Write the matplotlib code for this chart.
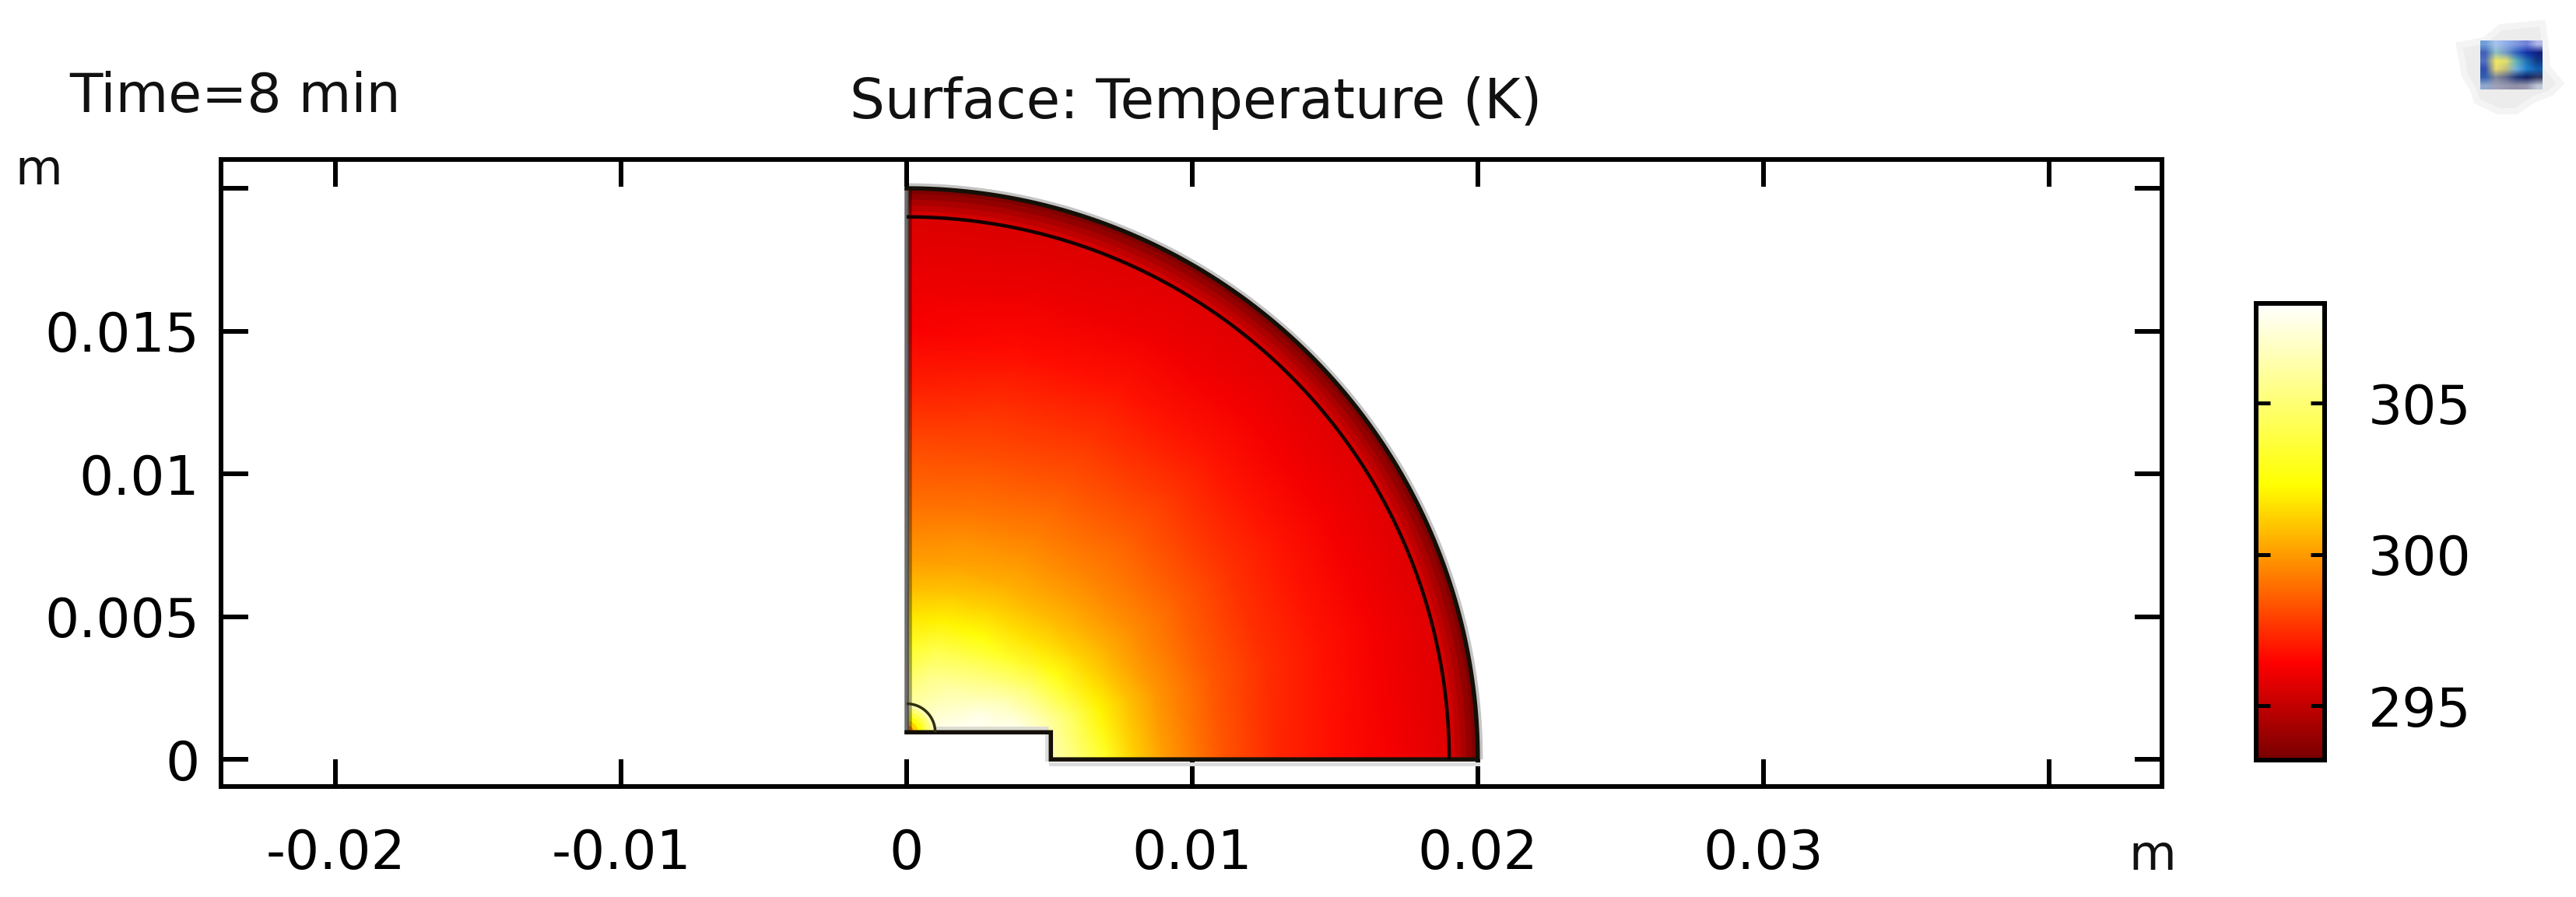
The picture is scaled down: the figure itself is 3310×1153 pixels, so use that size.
import numpy as np
import matplotlib
matplotlib.use("Agg")
import matplotlib.pyplot as plt
from matplotlib.colors import LinearSegmentedColormap, Normalize
from matplotlib.cm import ScalarMappable
from matplotlib.patches import PathPatch, Wedge, Polygon
from matplotlib.path import Path

plt.rcParams["font.family"] = "DejaVu Sans"

# ==============================
# Data
# ==============================
x_ticks = [-0.02, -0.01, 0, 0.01, 0.02, 0.03, 0.04]
x_labels = ["-0.02", "-0.01", "0", "0.01", "0.02", "0.03", ""]
y_ticks = [0, 0.005, 0.01, 0.015, 0.02]
y_labels = ["0", "0.005", "0.01", "0.015", ""]
cbar_ticks = [295, 300, 305]

# geometry in metres
outer_radius = 0.02
inner_radius = 0.019
notch_x = 0.00505
notch_y = 0.00095
small_radius = 0.001

# temperature (K) on a polar table: one list per angle, one value per radius
radii = [0, 0.001, 0.002, 0.003, 0.004, 0.005, 0.006, 0.007, 0.008, 0.009,
         0.011, 0.013, 0.015, 0.017, 0.019, 0.0195]
angles_deg = [0, 15, 30, 45, 60, 75, 90]
temp_deg0 = [308, 308, 308, 308, 307.5, 306.6, 305, 303.2, 301.2, 300.1, 298.4, 297.3, 296.7, 296.2, 295.7, 295.7]
temp_deg15 = [308, 308, 308, 308, 307.9, 306.4, 304.5, 302.1, 300.9, 299.9, 298.5, 297.5, 296.8, 296.2, 295.7, 295.7]
temp_deg30 = [308, 308, 308, 307.8, 306.6, 304.9, 302.7, 301.3, 300.4, 299.7, 298.6, 297.6, 296.9, 296.2, 295.7, 295.7]
temp_deg45 = [308, 308, 307.5, 306.6, 305.2, 303.3, 301.6, 300.7, 300.1, 299.5, 298.6, 297.7, 296.9, 296.2, 295.7, 295.7]
temp_deg60 = [308, 307.5, 306.9, 306, 304.4, 302.5, 301.3, 300.5, 299.9, 299.35, 298.4, 297.6, 296.8, 296.1, 295.7, 295.7]
temp_deg75 = [308, 307, 306.3, 305.5, 304, 302, 301, 300.2, 299.7, 299.1, 298.2, 297.4, 296.6, 296, 295.6, 295.6]
temp_deg90 = [308, 306.5, 306, 304.5, 303.1, 301.7, 300.8, 300, 299.5, 298.95, 298.1, 297.1, 296.3, 295.95, 295.6, 295.6]

# outer shell bands, outermost first
shell_radii = [0.0200, 0.0198, 0.0196, 0.0194, 0.0192]
shell_temp = [293.4, 293.9, 294.4, 294.9, 295.4]

# small quarter circle at the inner corner, outermost first
small_radii = [0.001, 0.00085, 0.0007, 0.00055, 0.0004, 0.00025, 0.00012]
small_temp = [306.5, 305, 303.8, 302.5, 301.3, 299.5, 296.8]

# colour scale
temp_min = 293.2
temp_max = 308.3
cmap_stops = [(0.0, "#780000"), (0.212, "#ff0000"), (0.603, "#ffff00"), (1.0, "#ffffff")]

# small app icon, top right
icon_colors = [
    ["#6f9fd8", "#a8c4ec", "#90aee8", "#8098e0", "#7080d8", "#b0b8e8"],
    ["#4060b8", "#90c0c0", "#7098c8", "#3060c0", "#1030a8", "#102080"],
    ["#5070c0", "#f0e860", "#e0e070", "#60b0b8", "#2070b0", "#103888"],
    ["#3050b0", "#e8d870", "#c0c080", "#70b0e0", "#2080d0", "#1060b0"],
    ["#3060b0", "#808898", "#606890", "#203878", "#102060", "#303860"],
    ["#90a8d0", "#a0a0b8", "#9898b0", "#9090a8", "#9898b0", "#c0c8d8"],
]

# ==============================
# Figure and axes, pixel layout
# ==============================
W, H = 3310, 1153
PX = 72 / 100  # points per pixel at dpi 100
fig = plt.figure(figsize=(W / 100, H / 100), dpi=100, facecolor="white")


def add_axes_px(x0, y0, x1, y1):
    return fig.add_axes([x0 / W, 1 - y1 / H, (x1 - x0) / W, (y1 - y0) / H])


def body_path(radius):
    # quarter disc with the step cut out of its inner corner
    verts = [(0, notch_y), (notch_x, notch_y), (notch_x, 0)]
    verts += list(zip(radius * np.cos(arc), radius * np.sin(arc)))
    verts += [(0, notch_y)]
    return Path(verts, closed=True)


ax = add_axes_px(284, 205, 2778, 1011)
ax.set_xlim(-0.02401, 0.04396)
ax.set_ylim(-0.00095, 0.02101)

cmap = LinearSegmentedColormap.from_list("thermal", cmap_stops)
norm = Normalize(temp_min, temp_max)

# ==============================
# Temperature surface
# ==============================
arc = np.radians(np.linspace(0, 90, 200))
clip = PathPatch(body_path(outer_radius), transform=ax.transData, fc="none", ec="none")
inner_clip = PathPatch(body_path(inner_radius), transform=ax.transData, fc="none", ec="none")
ax.add_patch(clip)
ax.add_patch(inner_clip)

for r, t in zip(shell_radii, shell_temp):
    band = Wedge((0, 0), r, 0, 90, fc=cmap(norm(t)), ec="none", zorder=1)
    ax.add_patch(band)
    band.set_clip_path(clip)

temps = np.column_stack([temp_deg0, temp_deg15, temp_deg30, temp_deg45,
                         temp_deg60, temp_deg75, temp_deg90])
rr = np.array(radii)[:, None]
tt = np.radians(angles_deg)[None, :]
mesh = ax.pcolormesh(rr * np.cos(tt), rr * np.sin(tt), temps,
                     shading="gouraud", cmap=cmap, norm=norm, zorder=2)
mesh.set_clip_path(inner_clip)

for r, t in zip(small_radii, small_temp):
    ax.add_patch(Wedge((0, notch_y), r, 0, 90, fc=cmap(norm(t)), ec="none", zorder=2.5))

# ==============================
# Edges and their soft shadows
# ==============================
px_x = 1 / 36690  # metres per pixel
px_y = 1 / 36700
GREY = "#dcdcdc"

ax.plot((outer_radius + 4 * px_x) * np.cos(arc), (outer_radius + 4 * px_y) * np.sin(arc),
        color="#c4c4c4", lw=5 * PX, zorder=0.5, solid_capstyle="butt")
ax.plot([notch_x, outer_radius], [-5.5 * px_y] * 2, color=GREY, lw=5 * PX, zorder=3)
ax.plot([notch_x - 5.5 * px_x] * 2, [0, notch_y], color=GREY, lw=5 * PX, zorder=3)
ax.plot([small_radius, notch_x - 3 * px_x], [notch_y + 5.5 * px_y] * 2, color="#dcdcd0",
        lw=5 * PX, zorder=3, solid_capstyle="butt")

# left edge: grey line and a darker strip beside it
ax.plot([0, 0], [notch_y - 3 * px_y, outer_radius], color="#6e6e6e", lw=5.5 * PX,
        zorder=3, solid_capstyle="butt")
ax.plot([4.5 * px_x] * 2, [notch_y, outer_radius - 3 * px_y], color="black", alpha=0.35,
        lw=5.5 * PX, zorder=3, solid_capstyle="butt")

outline_x = [0, notch_x, notch_x] + list(outer_radius * np.cos(arc))
outline_y = [notch_y, notch_y, 0] + list(outer_radius * np.sin(arc))
ax.plot(outline_x, outline_y, color="#141008", lw=5.5 * PX, zorder=4, solid_joinstyle="miter")
ax.plot(inner_radius * np.cos(arc), inner_radius * np.sin(arc), color="#160000",
        lw=4.5 * PX, zorder=4, solid_capstyle="butt")
ax.plot(small_radius * np.cos(arc), notch_y + small_radius * np.sin(arc), color="#303010",
        lw=3.5 * PX, zorder=4, solid_capstyle="butt")

# ==============================
# Axes, ticks and texts
# ==============================
ax.set_xticks(x_ticks, x_labels)
ax.set_yticks(y_ticks, y_labels)
ax.tick_params(axis="both", which="major", direction="in", length=35 * PX, width=6 * PX,
               top=True, right=True, labelsize=50)
ax.tick_params(axis="x", pad=38)
ax.tick_params(axis="y", pad=20)
for sp in ax.spines.values():
    sp.set_linewidth(6 * PX)
    sp.set_color("black")
    sp.set_zorder(5)

fig.text(89 / W, 1 - 144 / H, "Time=8 min", fontsize=50, ha="left", va="baseline", color="#111111")
fig.text(1537 / W, 1 - 152 / H, "Surface: Temperature (K)", fontsize=51, ha="center", va="baseline",
         color="#111111")
fig.text(19 / W, 1 - 237 / H, "m", fontsize=45, ha="left", va="baseline", color="#111111")
fig.text(2735 / W, 1 - 1118 / H, "m", fontsize=45, ha="left", va="baseline", color="#111111")

# ==============================
# Colour bar
# ==============================
cax = add_axes_px(2899, 390, 2987, 977)
cbar = fig.colorbar(ScalarMappable(norm=norm, cmap=cmap), cax=cax, ticks=cbar_ticks)
cbar.ax.tick_params(direction="in", length=18 * PX, width=5 * PX, left=True, right=True,
                    labelsize=50, pad=40)
cbar.outline.set_linewidth(6 * PX)

# ==============================
# Icon
# ==============================
icon_bg = add_axes_px(3150, 0, 3300, 170)
icon_bg.axis("off")
halo = [(3160, 58), (3193, 52), (3213, 35), (3267, 30), (3270, 53), (3273, 87), (3290, 107),
        (3277, 120), (3257, 127), (3233, 143), (3210, 143), (3183, 130), (3177, 113), (3167, 97)]
icon_bg.add_patch(Polygon(halo, closed=True, fc="#ececec", ec="#f4f4f4", lw=6))
rgb = np.array([[matplotlib.colors.to_rgb(c) for c in row] for row in icon_colors])
icon_bg.imshow(rgb, extent=(3187, 3267, 115, 52), interpolation="bilinear", aspect="auto", zorder=2)
icon_bg.set_xlim(3150, 3300)
icon_bg.set_ylim(170, 0)

fig.savefig("out.png", dpi=100, facecolor="white")
